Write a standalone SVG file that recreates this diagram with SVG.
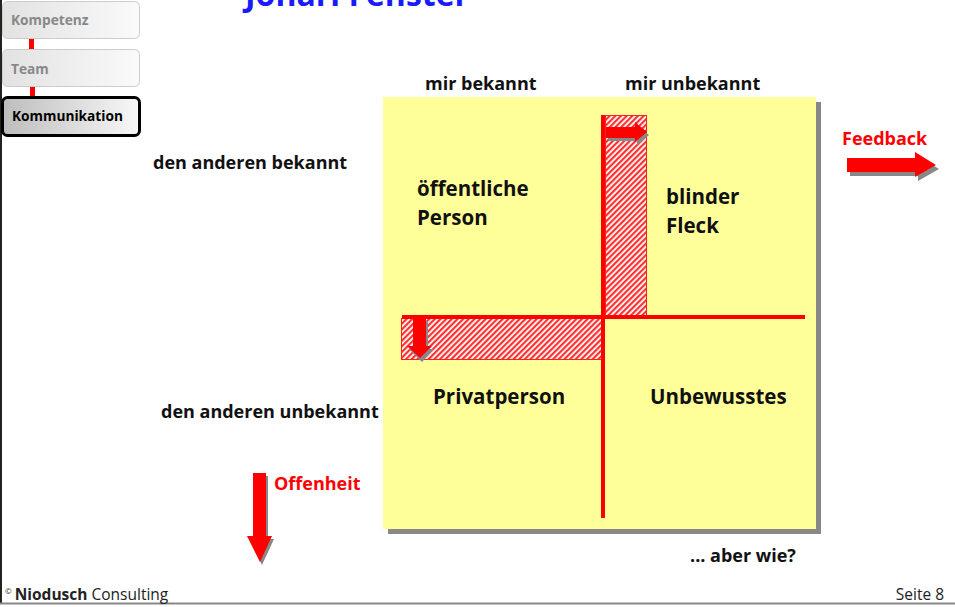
<svg xmlns="http://www.w3.org/2000/svg" width="955" height="607" viewBox="0 0 955 607">
<style>
text{font-family:"Open Sans","Liberation Sans",sans-serif;font-weight:bold}
.lbl{font-size:18px;fill:#111}
.big{font-size:20.5px;fill:#111}
.red{fill:#ff0000}
.nav{font-size:13.7px;fill:#888}
</style>
<defs>
<linearGradient id="g1" x1="0" y1="0" x2="1" y2="0"><stop offset="0" stop-color="#e2e2e2"/><stop offset="1" stop-color="#fafafa"/></linearGradient>
<linearGradient id="g2" x1="0" y1="0" x2="1" y2="0"><stop offset="0" stop-color="#bdbdbd"/><stop offset="1" stop-color="#f8f8f8"/></linearGradient>
<pattern id="hatch" width="4" height="4" patternUnits="userSpaceOnUse" patternTransform="rotate(45)">
<rect width="4" height="4" fill="#ffffff"/>
<rect width="2.2" height="4" fill="#ff3030"/>
</pattern>
</defs>
<rect width="955" height="607" fill="#ffffff"/>
<line x1="1" y1="0" x2="1" y2="603" stroke="#222" stroke-width="2"/>
<line x1="0" y1="603.5" x2="955" y2="603.5" stroke="#888" stroke-width="2"/>
<text x="245" y="6" font-size="32" fill="#1a1aff">Johari Fenster</text>
<g id="nav">
<rect x="29" y="38" width="5" height="12" fill="#ff0000"/>
<rect x="30" y="86" width="5" height="12" fill="#ff0000"/>
<g id="nav-kompetenz"><rect x="2.5" y="1.5" width="137" height="37" rx="5" fill="url(#g1)" stroke="#cccccc"/><text class="nav" x="11" y="25">Kompetenz</text></g>
<g id="nav-team"><rect x="2.5" y="49.5" width="137" height="37" rx="5" fill="url(#g1)" stroke="#cccccc"/><text class="nav" x="11" y="74">Team</text></g>
<g id="nav-komm"><rect x="2.5" y="97.5" width="137" height="38" rx="5" fill="url(#g2)" stroke="#000" stroke-width="3"/><text class="nav" x="12" y="121" style="fill:#000">Kommunikation</text></g>
</g>
<g id="window">
<rect x="388" y="102" width="433" height="432" fill="#888888"/>
<rect x="383" y="97" width="433" height="432" fill="#ffff99"/>
<rect x="605.5" y="115.5" width="41" height="200" fill="url(#hatch)" stroke="#ff2020"/>
<rect x="401.5" y="318.5" width="200" height="41" fill="url(#hatch)" stroke="#ff2020"/>
<rect x="601" y="115" width="4" height="403" fill="#ff0000"/>
<rect x="402" y="315" width="403" height="4" fill="#ff0000"/>
</g>
<g id="arrows">
<path d="M608 130 H637 V125 L649 135 L637 145 V141 H608 Z" fill="#888"/>
<path d="M606 127 H635 V122 L647 132 L635 142 V138 H606 Z" fill="#ff0000"/>
<path d="M415 321 H428 V349 H434 L422 362 L409 349 H415 Z" fill="#888"/>
<path d="M413 319 H426 V346 H432 L420 358 L407 346 H413 Z" fill="#ff0000"/>
<path d="M850 162 H918 V156 L939 169 L918 181 V176 H850 Z" fill="#888"/>
<path d="M847 158 H915 V152 L936 165 L915 177 V172 H847 Z" fill="#ff0000"/>
<path d="M255 476 H268 V539 H274 L262 565 L249 539 H255 Z" fill="#888"/>
<path d="M253 473 H266 V536 H272 L260 562 L247 536 H253 Z" fill="#ff0000"/>
</g>
<g id="labels">
<text class="lbl" x="425" y="90">mir bekannt</text>
<text class="lbl" x="625" y="90">mir unbekannt</text>
<text class="lbl" x="153" y="169">den anderen bekannt</text>
<text class="lbl" x="161" y="418">den anderen unbekannt</text>
<text class="big" x="417" y="196">öffentliche</text>
<text class="big" x="417" y="225">Person</text>
<text class="big" x="666" y="204">blinder</text>
<text class="big" x="666" y="233">Fleck</text>
<text class="big" x="433" y="404">Privatperson</text>
<text class="big" x="650" y="404">Unbewusstes</text>
<text class="lbl" x="842" y="145" style="fill:#ff0000">Feedback</text>
<text class="lbl" x="274" y="490" style="fill:#ff0000">Offenheit</text>
<text class="lbl" x="690" y="562">... aber wie?</text>
</g>
<g id="footer">
<text x="5" y="600" font-size="15.5" style="font-weight:normal" fill="#222"><tspan font-size="8" dy="-6">©</tspan><tspan dy="6" dx="3" style="font-weight:bold">Niodusch</tspan> Consulting</text>
<text x="944" y="600" font-size="15.5" text-anchor="end" style="font-weight:normal" fill="#222">Seite 8</text>
</g>
</svg>
